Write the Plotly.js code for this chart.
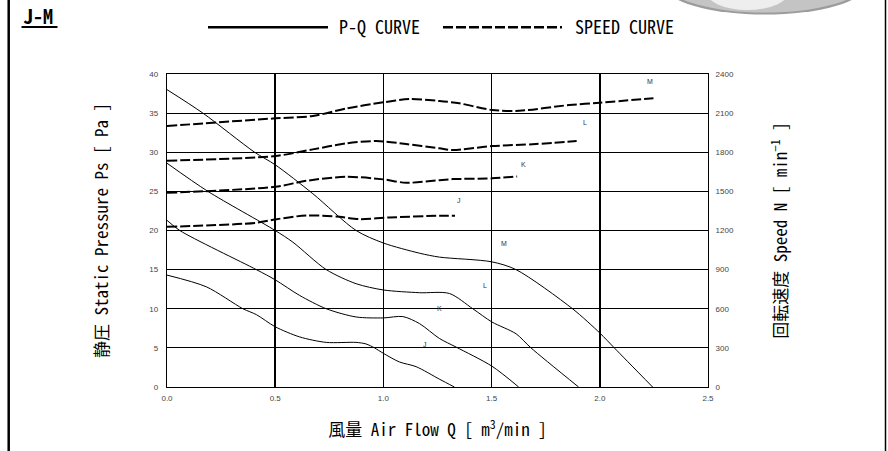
<!DOCTYPE html>
<html>
<head>
<meta charset="utf-8">
<script src="https://cdn.plot.ly/plotly-3.0.1.min.js"></script>
<style>html,body{margin:0;padding:0;background:#fff;}#chart{width:888px;height:451px;}</style>
</head>
<body>
<div id="chart"></div>
<script>
// ---- P-Q curves (Air flow m3/min vs static pressure Pa) ----
const pqFlowM = [0, 0.166, 0.405, 0.5, 0.674, 0.874, 1.0, 1.167, 1.259, 1.5, 1.613, 1.874, 2.0, 2.067, 2.244];
const pqPressM = [38.0, 35.0, 30.0, 28.4, 24.7, 20.0, 18.4, 17.1, 16.6, 16.0, 15.0, 10.0, 6.9, 5.0, 0];
const pqFlowL = [0, 0.189, 0.5, 0.582, 0.736, 0.874, 1.0, 1.167, 1.305, 1.413, 1.502, 1.613, 1.682, 1.902];
const pqPressL = [28.6, 25.0, 20.0, 18.5, 15.0, 13.2, 12.4, 12.05, 11.95, 10.0, 8.3, 6.8, 5.0, 0];
const pqFlowK = [0, 0.059, 0.413, 0.5, 0.613, 0.736, 0.874, 1.0, 1.09, 1.167, 1.259, 1.336, 1.502, 1.625];
const pqPressK = [21.3, 20.0, 15.0, 13.7, 11.7, 10.0, 8.95, 8.83, 9.0, 8.1, 6.2, 5.1, 2.65, 0];
const pqFlowJ = [0, 0.182, 0.351, 0.413, 0.5, 0.613, 0.736, 0.874, 0.92, 0.959, 1.0, 1.074, 1.151, 1.259, 1.328];
const pqPressJ = [14.3, 12.8, 10.0, 9.25, 7.7, 6.4, 5.7, 5.7, 5.5, 5.0, 4.3, 3.2, 2.6, 1.0, 0];

// ---- Speed curves (Air flow m3/min vs speed min-1) ----
const spFlowM = [0, 0.5, 0.674, 0.828, 1.0, 1.12, 1.259, 1.351, 1.502, 1.628, 1.859, 2.0, 2.248];
const spSpeedM = [2001, 2060, 2078, 2136, 2183, 2208, 2193, 2175, 2124, 2118, 2162, 2180, 2214];
const spFlowL = [0, 0.5, 0.674, 0.828, 0.967, 1.105, 1.259, 1.32, 1.502, 1.705, 1.893];
const spSpeedL = [1735, 1771, 1822, 1868, 1886, 1863, 1830, 1817, 1847, 1863, 1886];
const spFlowK = [0, 0.5, 0.643, 0.828, 1.0, 1.105, 1.259, 1.32, 1.502, 1.618];
const spSpeedK = [1489, 1535, 1581, 1612, 1592, 1566, 1586, 1594, 1600, 1614];
const spFlowJ = [0, 0.413, 0.5, 0.643, 0.797, 0.89, 1.028, 1.259, 1.331];
const spSpeedJ = [1228, 1259, 1285, 1315, 1305, 1287, 1300, 1313, 1313];

// ---- curve labels ----
const modelNames = ['M', 'L', 'K', 'J'];
const pqLabelFlow = [1.556, 1.471, 1.259, 1.191];
const pqLabelPress = [18.34, 13.0, 10.03, 5.37];
const spLabelFlow = [2.233, 1.932, 1.648, 1.348];
const spLabelSpeed = [2340, 2027, 1707, 1428];

// ---- axis ticks / texts ----
const xTicks = [0, 0.5, 1.0, 1.5, 2.0, 2.5];
const yTicks = [0, 5, 10, 15, 20, 25, 30, 35, 40];
const y2Ticks = [0, 300, 600, 900, 1200, 1500, 1800, 2100, 2400];
const chartTitle = 'J-M';
const legendPQ = 'P-Q CURVE';
const legendSpeed = 'SPEED CURVE';
const xTitle = '風量 Air Flow Q [ m<sup>3</sup>/min ]';
const yTitle = '静圧 Static Pressure Ps [ Pa ]';
const y2Title = '回転速度 Speed N [ min<sup>−1</sup> ]';

const GOTHIC = '"Noto Sans Mono CJK JP", "Noto Sans CJK JP", "DejaVu Sans Mono", monospace';
const SMALL = '"Liberation Sans", Arial, sans-serif';
const NB = '\u00A0';

const pqFlows = [pqFlowM, pqFlowL, pqFlowK, pqFlowJ];
const pqPress = [pqPressM, pqPressL, pqPressK, pqPressJ];
const spFlows = [spFlowM, spFlowL, spFlowK, spFlowJ];
const spSpeeds = [spSpeedM, spSpeedL, spSpeedK, spSpeedJ];

const traces = [];
modelNames.forEach((n, i) => {
  traces.push({x: pqFlows[i], y: pqPress[i], type: 'scatter', mode: 'lines', name: 'P-Q ' + n,
    line: {color: '#000', width: 1, shape: 'spline', smoothing: 0.8}, yaxis: 'y', showlegend: false, hoverinfo: 'skip'});
});
modelNames.forEach((n, i) => {
  traces.push({x: spFlows[i], y: spSpeeds[i], type: 'scatter', mode: 'lines', name: 'Speed ' + n,
    line: {color: '#000', width: 2, dash: '10px,3px', shape: 'spline', smoothing: 0.8}, yaxis: 'y2', showlegend: false, hoverinfo: 'skip'});
});

// pixel -> paper helpers (plot area 167..708 x 74..387)
const L = 167, T = 74, W = 541, H = 313;
const px = p => (p - L) / W;
const py = p => (T + H - p) / H;

const annotations = [];
modelNames.forEach((n, i) => {
  annotations.push({x: pqLabelFlow[i], y: pqLabelPress[i], xref: 'x', yref: 'y', text: n, showarrow: false,
    font: {family: SMALL, size: 7, color: '#333'}});
  annotations.push({x: spLabelFlow[i], y: spLabelSpeed[i], xref: 'x', yref: 'y2', text: n, showarrow: false,
    font: {family: SMALL, size: 7, color: '#333'}});
});
annotations.push({x: px(21), y: py(15), xref: 'paper', yref: 'paper', xanchor: 'left', yanchor: 'middle',
  text: '<b>' + chartTitle + '</b>', showarrow: false, font: {family: GOTHIC, size: 20, color: '#000'}});
annotations.push({x: px(337), y: py(26), xref: 'paper', yref: 'paper', xanchor: 'left', yanchor: 'middle',
  text: legendPQ, showarrow: false, font: {family: GOTHIC, size: 18, color: '#000'}});
annotations.push({x: px(573), y: py(26), xref: 'paper', yref: 'paper', xanchor: 'left', yanchor: 'middle',
  text: legendSpeed, showarrow: false, font: {family: GOTHIC, size: 18, color: '#000'}});

const shapes = [
  // outer frame lines
  {type: 'line', xref: 'paper', yref: 'paper', x0: px(8.7), x1: px(8.7), y0: py(460), y1: py(-5), line: {color: '#000', width: 2.5}},
  {type: 'line', xref: 'paper', yref: 'paper', x0: px(885.5), x1: px(885.5), y0: py(460), y1: py(-5), line: {color: '#000', width: 1.5}},
  // title underline
  {type: 'line', xref: 'paper', yref: 'paper', x0: px(21.5), x1: px(57.5), y0: py(27), y1: py(27), line: {color: '#000', width: 2}},
  // legend samples
  {type: 'line', xref: 'paper', yref: 'paper', x0: px(208), x1: px(328), y0: py(27.3), y1: py(27.3), line: {color: '#000', width: 2.5}},
  {type: 'line', xref: 'paper', yref: 'paper', x0: px(443), x1: px(562), y0: py(27.3), y1: py(27.3), line: {color: '#000', width: 2.5, dash: '10px,3px'}},
  // decorative metallic disc at top right
  {type: 'circle', xref: 'paper', yref: 'paper', x0: px(665), x1: px(865), y0: py(14.5), y1: py(-43), fillcolor: '#9c9c9c', line: {width: 0}},
  {type: 'circle', xref: 'paper', yref: 'paper', x0: px(668), x1: px(862), y0: py(12.5), y1: py(-43), fillcolor: '#c4c4c4', line: {width: 0}},
  {type: 'circle', xref: 'paper', yref: 'paper', x0: px(705), x1: px(790), y0: py(10), y1: py(-30), fillcolor: '#eeeeee', line: {width: 0}}
];

const layout = {
  width: 888, height: 451,
  margin: {l: L, r: 888 - L - W, t: T, b: 451 - T - H, pad: 0},
  paper_bgcolor: '#fff', plot_bgcolor: '#fff',
  showlegend: false,
  xaxis: {range: [0, 2.5], tickvals: xTicks, tickformat: '.1f', showgrid: true, gridcolor: '#000', gridwidth: 1.6,
    zeroline: false, showline: true, linecolor: '#000', linewidth: 1, mirror: true,
    ticks: 'outside', ticklen: 3, tickcolor: 'rgba(0,0,0,0)',
    tickfont: {family: SMALL, size: 8, color: '#444'},
    title: {text: xTitle + NB + NB, standoff: 22, font: {family: GOTHIC, size: 17, color: '#000'}}},
  yaxis: {range: [0, 40], tickvals: yTicks, showgrid: true, gridcolor: '#000', gridwidth: 1.2,
    zeroline: false, showline: true, linecolor: '#000', linewidth: 1.2, mirror: true,
    ticks: 'outside', ticklen: 6, tickcolor: 'rgba(0,0,0,0)',
    tickfont: {family: SMALL, size: 8, color: '#444'},
    title: {text: NB + NB + NB + yTitle, standoff: 36, font: {family: GOTHIC, size: 17, color: '#000'}}},
  yaxis2: {range: [0, 2400], tickvals: y2Ticks, overlaying: 'y', side: 'right', showgrid: false, zeroline: false,
    showline: false, ticks: 'outside', ticklen: 5, tickcolor: 'rgba(0,0,0,0)',
    tickfont: {family: SMALL, size: 8, color: '#444'},
    title: {text: NB + NB + NB + y2Title, standoff: 42, font: {family: GOTHIC, size: 17, color: '#000'}}},
  annotations: annotations,
  shapes: shapes
};

Plotly.newPlot('chart', traces, layout, {staticPlot: true, displayModeBar: false});
</script>
</body>
</html>
